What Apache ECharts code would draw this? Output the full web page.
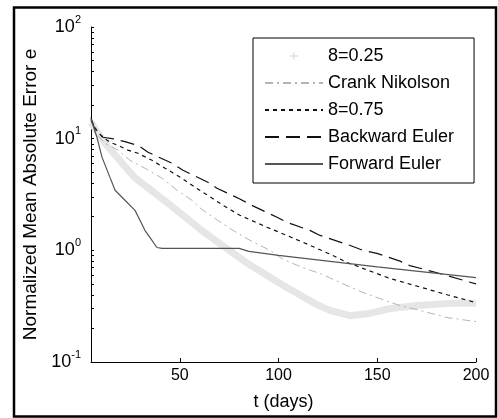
<!DOCTYPE html>
<html><head><meta charset="utf-8">
<script src="https://cdn.jsdelivr.net/npm/echarts@6/dist/echarts.min.js"></script>
<style>html,body{margin:0;padding:0;background:#fff}#c{width:498px;height:418px}</style>
</head><body><div id="c"></div>
<script>
// ---- data ----
const xTicks = [50, 100, 150, 200];
const yTicks = [0.1, 1, 10, 100];
const seriesNames = ['8=0.25', 'Crank Nikolson', '8=0.75', 'Backward Euler', 'Forward Euler'];

const theta25T = [5, 12, 27, 44, 61, 68, 85, 102, 119, 126, 136, 145, 156, 170, 187, 200];
const theta25E = [14, 9.1, 4.5, 2.64, 1.51, 1.23, 0.75, 0.49, 0.33, 0.29, 0.26, 0.27, 0.30, 0.32, 0.335, 0.335];

const crankT = [5, 7, 12.1, 18.7, 24.7, 32.3, 41, 49, 56.1, 60.2, 66.8, 76.9, 85.5, 95.6, 102.2, 112.3, 121, 129.6, 136.1, 142.7, 151.3, 161.5, 171.6, 185.3, 200];
const crankE = [15, 11.4, 9.1, 7.9, 6.4, 5.44, 4.42, 3.4, 2.81, 2.4, 1.98, 1.51, 1.23, 1.0, 0.83, 0.70, 0.62, 0.53, 0.47, 0.42, 0.37, 0.32, 0.29, 0.25, 0.23];

const theta75T = [5, 8.5, 11.1, 14.6, 18.7, 23.7, 28.8, 35.9, 42.5, 51.1, 57.7, 66.8, 71.8, 80.4, 94.1, 104.2, 115.9, 127.5, 134.6, 142.7, 156.4, 171.6, 183.2, 200];
const theta75E = [14.5, 11.4, 10.3, 9.3, 8.7, 7.9, 7.4, 6.4, 5.44, 4.42, 3.67, 2.9, 2.53, 2.06, 1.61, 1.36, 1.11, 0.90, 0.78, 0.69, 0.56, 0.47, 0.41, 0.34];

const backT = [5, 7, 9.6, 11, 17.2, 22.2, 28.8, 33.9, 46, 51.6, 64.2, 68.8, 80.4, 87, 99.2, 104.2, 115.9, 121, 136, 142.7, 149.8, 161.5, 166.5, 181.7, 200];
const backE = [15.5, 12, 10.9, 10.3, 9.9, 9.4, 8.7, 7.56, 6.03, 5.21, 4.07, 3.6, 2.88, 2.5, 1.98, 1.78, 1.51, 1.36, 1.11, 1.0, 0.94, 0.80, 0.73, 0.62, 0.50];

const forwardT = [5, 8, 10.6, 14.6, 17.2, 22.2, 27.3, 29.8, 32.3, 35.9, 38.4, 41, 80, 85, 100, 150, 200];
const forwardE = [15, 10.3, 6.8, 4.5, 3.45, 2.81, 2.28, 1.86, 1.51, 1.23, 1.06, 1.04, 1.04, 0.98, 0.90, 0.71, 0.57];

// ---- chart ----
const FONT = '"Liberation Sans", Arial, Helvetica, sans-serif';
function pairs(t, e) { return t.map((v, i) => [v, e[i]]); }
// minor tick positions on the log axis (1..9 x each decade)
const yMinor = [];
for (let d = -1; d <= 1; d++) for (let k = 1; k <= 9; k++) yMinor.push(+(k * Math.pow(10, d)).toPrecision(3));
yMinor.push(100);

const plusIcon = 'path://M4.5,0 L5.5,0 L5.5,4.5 L10,4.5 L10,5.5 L5.5,5.5 L5.5,10 L4.5,10 L4.5,5.5 L0,5.5 L0,4.5 L4.5,4.5 Z';

const chart = echarts.init(document.getElementById('c'), null, { renderer: 'canvas' });
const option = {
  animation: false,
  backgroundColor: '#fff',
  textStyle: { fontFamily: FONT },
  grid: { left: 91, right: 22, top: 27, bottom: 56 },
  xAxis: {
    type: 'value', min: 5, max: 200,
    name: 't (days)', nameLocation: 'middle', nameGap: 31,
    nameTextStyle: { fontSize: 18, color: '#000', fontFamily: FONT },
    axisLine: { show: true, lineStyle: { color: '#000', width: 1 } },
    axisTick: { show: true, inside: true, length: 4, customValues: xTicks, lineStyle: { color: '#000' } },
    axisLabel: { customValues: xTicks, fontSize: 16, color: '#000', margin: 6, fontFamily: FONT },
    splitLine: { show: false }
  },
  yAxis: {
    type: 'log', logBase: 10, min: 0.1, max: 100,
    name: 'Normalized Mean Absolute Error e', nameLocation: 'middle', nameGap: 45,
    nameTextStyle: { fontSize: 19, color: '#000', fontFamily: FONT },
    axisLine: { show: true, lineStyle: { color: '#000', width: 1 } },
    axisTick: { show: true, inside: true, length: 3, customValues: yMinor, lineStyle: { color: '#000' } },
    axisLabel: {
      customValues: yTicks, margin: 10, color: '#000',
      formatter: v => '{b|10}{s|' + Math.round(Math.log10(v)) + '}',
      rich: {
        b: { fontSize: 18, fontFamily: FONT, color: '#000', lineHeight: 26 },
        s: { fontSize: 11, fontFamily: FONT, color: '#000', verticalAlign: 'top', lineHeight: 11 }
      }
    },
    splitLine: { show: false }
  },
  legend: {
    orient: 'vertical', left: 253, top: 38,
    itemWidth: 58, itemHeight: 8, itemGap: 9,
    padding: [9, 20, 10, 11],
    borderColor: '#000', borderWidth: 1, backgroundColor: '#fff',
    itemStyle: { opacity: 0 },
    textStyle: { fontSize: 18, color: '#000', fontFamily: FONT, lineHeight: 18 },
    data: [
      { name: seriesNames[0], icon: plusIcon, itemStyle: { color: '#cfcfcf', opacity: 1 } },
      { name: seriesNames[1] },
      { name: seriesNames[2] },
      { name: seriesNames[3] },
      { name: seriesNames[4] }
    ]
  },
  series: [
    { name: seriesNames[0], type: 'line', symbol: 'none', data: pairs(theta25T, theta25E),
      lineStyle: { color: '#e6e6e6', width: 7 }, itemStyle: { color: '#cfcfcf' } },
    { name: seriesNames[1], type: 'line', symbol: 'none', data: pairs(crankT, crankE),
      lineStyle: { color: '#b4b4b4', width: 1, type: [8, 4, 2, 4] }, itemStyle: { color: '#b4b4b4' } },
    { name: seriesNames[2], type: 'line', symbol: 'none', data: pairs(theta75T, theta75E),
      lineStyle: { color: '#111', width: 1.2, type: [4, 4] }, itemStyle: { color: '#111' } },
    { name: seriesNames[3], type: 'line', symbol: 'none', data: pairs(backT, backE),
      lineStyle: { color: '#111', width: 1.2, type: [14, 7] }, itemStyle: { color: '#111' } },
    { name: seriesNames[4], type: 'line', symbol: 'none', data: pairs(forwardT, forwardE),
      lineStyle: { color: '#555', width: 1.2 }, itemStyle: { color: '#555' } }
  ],
  graphic: [{
    type: 'rect', silent: true, z: 100,
    shape: { x: 14, y: 7.5, width: 482, height: 409 },
    style: { fill: 'none', stroke: '#000', lineWidth: 2.5 }
  }]
};
chart.setOption(option);
</script>
</body></html>
